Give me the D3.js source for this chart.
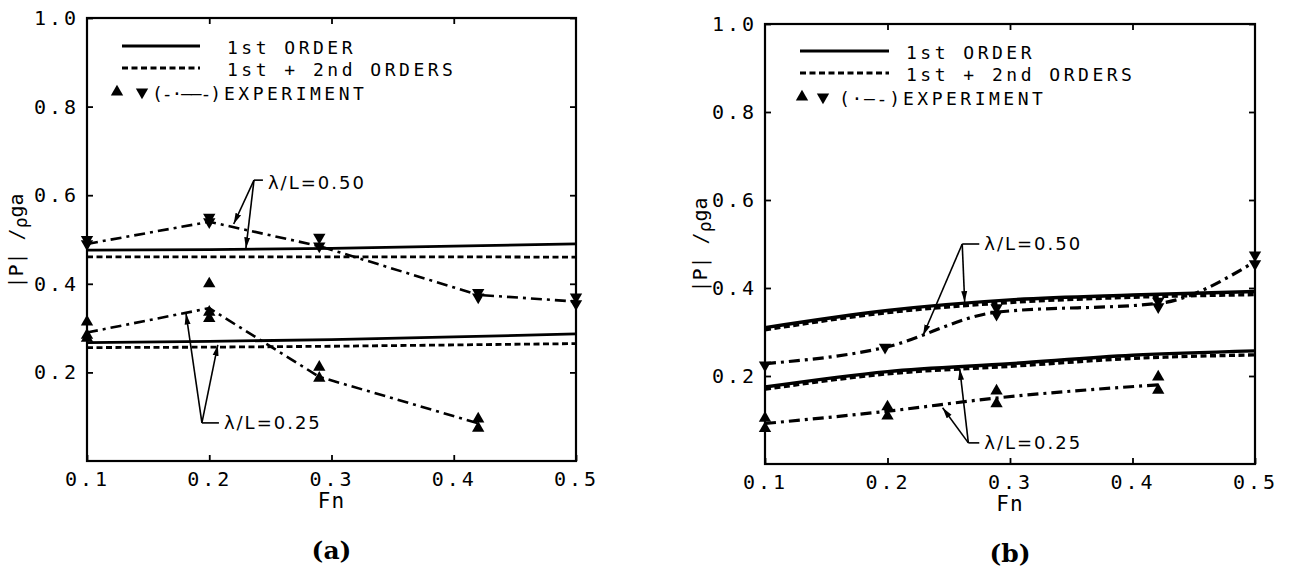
<!DOCTYPE html>
<html>
<head>
<meta charset="utf-8">
<script src="https://cdn.jsdelivr.net/npm/d3@7"></script>
<style>
  body { margin: 0; background: #fff; }
  svg { display: block; }
  .mono { font-family: 'DejaVu Sans Mono', monospace; fill: #000; }
</style>
</head>
<body>
<svg id="chart" width="1289" height="573"></svg>
<script>
// ── DATA ────────────────────────────────────────────────────────────────
const fnTicks    = [0.1, 0.2, 0.3, 0.4, 0.5];
const fnInner    = [0.2, 0.3, 0.4];
const yTicks     = [0.2, 0.4, 0.6, 0.8, 1.0];
const theoryFn   = [0.1, 0.2, 0.3, 0.4, 0.5];

// panel (a)
const a1st050    = [0.476, 0.477, 0.480, 0.485, 0.490];
const a2nd050    = [0.461, 0.461, 0.461, 0.461, 0.460];
const a1st025    = [0.267, 0.270, 0.274, 0.280, 0.287];
const a2nd025    = [0.256, 0.257, 0.259, 0.262, 0.265];
const aExpFn050  = [0.1, 0.2, 0.29, 0.42, 0.5];
const aExpLn050  = [0.49, 0.54, 0.485, 0.375, 0.36];
const aExpPt050  = [[0.50, 0.49], [0.55, 0.54], [0.505, 0.485], [0.38, 0.37], [0.37, 0.355]];
const aExpFn025  = [0.1, 0.2, 0.29, 0.42];
const aExpLn025  = [0.29, 0.345, 0.19, 0.085];
const aExpPt025  = [[0.314, 0.284, 0.277], [0.40, 0.336, 0.322], [0.212, 0.187], [0.095, 0.074]];

// panel (b)
const b1st050    = [0.310, 0.349, 0.373, 0.384, 0.392];
const b2nd050    = [0.305, 0.344, 0.367, 0.379, 0.385];
const b1st025    = [0.175, 0.210, 0.228, 0.247, 0.257];
const b2nd025    = [0.170, 0.205, 0.222, 0.240, 0.248];
const bExpFn050  = [0.1, 0.198, 0.289, 0.421, 0.5];
const bExpLn050  = [0.228, 0.265, 0.345, 0.365, 0.46];
const bExpPt050  = [[0.225], [0.265], [0.355, 0.34], [0.37, 0.357], [0.475, 0.455]];
const bExpFn025  = [0.1, 0.2, 0.289, 0.421];
const bExpLn025  = [0.092, 0.12, 0.15, 0.18];
const bExpPt025  = [[0.104, 0.081], [0.13, 0.109], [0.166, 0.137], [0.198, 0.168]];

// annotations: corner, text start, arrow tips (Fn, value)
const aNote050 = { label: 'λ/L=0.50', corner: [0.2366, 0.634], text: [0.248, 0.628], tips: [[0.220, 0.535], [0.230, 0.480]] };
const aNote025 = { label: 'λ/L=0.25', corner: [0.194, 0.086],  text: [0.212, 0.086], tips: [[0.181, 0.333], [0.207, 0.262]] };
const bNote050 = { label: 'λ/L=0.50', corner: [0.261, 0.50],   text: [0.279, 0.50],  tips: [[0.263, 0.368], [0.229, 0.292]] };
const bNote025 = { label: 'λ/L=0.25', corner: [0.266, 0.048],  text: [0.279, 0.048], tips: [[0.259, 0.216], [0.245, 0.128]] };

const legendRows = ['1st ORDER', '1st + 2nd ORDERS', 'EXPERIMENT'];

// ── DRAW ────────────────────────────────────────────────────────────────
const svg = d3.select('#chart');
svg.append('rect').attr('width', 1289).attr('height', 573).attr('fill', '#fff');

const defs = svg.append('defs');
defs.append('marker').attr('id', 'arr')
  .attr('markerUnits', 'userSpaceOnUse')
  .attr('markerWidth', 12).attr('markerHeight', 8)
  .attr('refX', 11).attr('refY', 4).attr('orient', 'auto')
  .append('path').attr('d', 'M0,1 L11,4 L0,7 Z').attr('fill', '#000');

const panels = [
  { tag: '(a)', left: 87, right: 576, top: 18, bottom: 461, lw: 2.8, yLabX: 17, yLabY: 241,
    th: [a1st050, a2nd050, a1st025, a2nd025],
    exp: [{ fn: aExpFn050, ln: aExpLn050, pts: aExpPt050, down: true },
          { fn: aExpFn025, ln: aExpLn025, pts: aExpPt025, down: false }],
    notes: [aNote050, aNote025], curve: d3.curveLinear,
    leg: { x0: 35, x1: 113, rows: [28, 50, 74], tx: 140, tri: [30, 55], par: 65, parTxt: '(-·——-)' } },
  { tag: '(b)', left: 765, right: 1255, top: 24, bottom: 464, lw: 3.4, yLabX: 701, yLabY: 245,
    th: [b1st050, b2nd050, b1st025, b2nd025],
    exp: [{ fn: bExpFn050, ln: bExpLn050, pts: bExpPt050, down: true },
          { fn: bExpFn025, ln: bExpLn025, pts: bExpPt025, down: false }],
    notes: [bNote050, bNote025], curve: d3.curveMonotoneX,
    leg: { x0: 35, x1: 124, rows: [27, 49, 73], tx: 141, tri: [37, 58], par: 74, parTxt: '(·—-)' } }
];

const dashes = ['none', '6,3.5'];
const dashDot = '11,5,3,5';
const triUp = d3.symbol().type(d3.symbolTriangle).size(66);

panels.forEach(p => {
  const x = d3.scaleLinear().domain([0.1, 0.5]).range([p.left, p.right]);
  const y = d3.scaleLinear().domain([0, 1]).range([p.bottom, p.top]);
  const g = svg.append('g');

  // frame
  g.append('rect').attr('x', p.left).attr('y', p.top)
    .attr('width', p.right - p.left).attr('height', p.bottom - p.top)
    .attr('fill', 'none').attr('stroke', '#000').attr('stroke-width', 2.2);

  // axes (inward ticks)
  const styleAxis = sel => {
    sel.select('.domain').remove();
    sel.selectAll('line').attr('stroke', '#000').attr('stroke-width', 1.8);
    sel.selectAll('text').attr('class', 'mono').attr('font-size', 20)
      .style('letter-spacing', '3px').attr('fill', '#000');
  };
  g.append('g').attr('transform', `translate(${p.left},0)`)
    .call(d3.axisLeft(y).tickValues(yTicks).tickSizeInner(-6).tickSizeOuter(0).tickPadding(8)
      .tickFormat(d3.format('.1f'))).call(styleAxis);
  g.append('g').attr('transform', `translate(${p.right},0)`)
    .call(d3.axisRight(y).tickValues(yTicks).tickSizeInner(-6).tickSizeOuter(0).tickFormat('')).call(styleAxis);
  g.append('g').attr('transform', `translate(0,${p.bottom})`)
    .call(d3.axisBottom(x).tickValues(fnTicks).tickSizeInner(-6).tickSizeOuter(0).tickPadding(11)
      .tickFormat(d3.format('.1f'))).call(styleAxis);
  g.append('g').attr('transform', `translate(0,${p.top})`)
    .call(d3.axisTop(x).tickValues(fnInner).tickSizeInner(-6).tickSizeOuter(0).tickFormat('')).call(styleAxis);

  // axis titles
  g.append('text').attr('class', 'mono').attr('font-size', 21).style('letter-spacing', '1px')
    .attr('x', (p.left + p.right) / 2).attr('y', p.bottom + 47).attr('text-anchor', 'middle').text('Fn');
  const yl = g.append('text').attr('class', 'mono').attr('font-size', 20)
    .attr('text-anchor', 'middle')
    .attr('transform', `translate(${p.yLabX + 6},${p.yLabY}) rotate(-90)`);
  yl.append('tspan').text('|P| /');
  yl.append('tspan').attr('font-size', 18).attr('dy', 4).text('ρ');
  yl.append('tspan').attr('dy', -4).text('ga');
  g.append('text').attr('font-family', "'DejaVu Serif', serif").attr('font-weight', 'bold')
    .attr('font-size', 25).attr('fill', '#000')
    .attr('x', (p.left + p.right) / 2).attr('y', p.bottom + 98).attr('text-anchor', 'middle').text(p.tag);

  // theory lines
  const line = d3.line().x((d, i) => x(theoryFn[i])).y(d => y(d)).curve(p.curve);
  p.th.forEach((arr, i) => {
    g.append('path').datum(arr).attr('d', line).attr('fill', 'none')
      .attr('stroke', '#000').attr('stroke-width', p.lw)
      .attr('stroke-dasharray', dashes[i % 2]);
  });

  // experiment
  p.exp.forEach(e => {
    const el = d3.line().x((d, i) => x(e.fn[i])).y(d => y(d)).curve(p.curve);
    g.append('path').datum(e.ln).attr('d', el).attr('fill', 'none')
      .attr('stroke', '#000').attr('stroke-width', p.lw - 0.2).attr('stroke-dasharray', dashDot);
    e.pts.forEach((vals, i) => {
      vals.forEach(v => {
        g.append('path').attr('d', triUp).attr('fill', '#000')
          .attr('transform', `translate(${x(e.fn[i])},${y(v)}) rotate(${e.down ? 180 : 0})`);
      });
    });
  });

  // annotations
  p.notes.forEach(n => {
    const cx = x(n.corner[0]), cy = y(n.corner[1]);
    g.append('line').attr('x1', cx).attr('y1', cy).attr('x2', x(n.text[0]) - 5).attr('y2', cy)
      .attr('stroke', '#000').attr('stroke-width', 1.6);
    n.tips.forEach(t => {
      g.append('line').attr('x1', cx).attr('y1', cy).attr('x2', x(t[0])).attr('y2', y(t[1]))
        .attr('stroke', '#000').attr('stroke-width', 1.6).attr('marker-end', 'url(#arr)');
    });
    g.append('text').attr('font-family', "'DejaVu Sans', sans-serif").attr('font-size', 18)
      .style('letter-spacing', '2px').attr('fill', '#000')
      .attr('x', x(n.text[0])).attr('y', y(n.text[1])).attr('dy', '0.36em').text(n.label);
  });

  // legend
  const L = p.leg;
  [0, 1].forEach(i => {
    g.append('line').attr('x1', p.left + L.x0).attr('x2', p.left + L.x1)
      .attr('y1', p.top + L.rows[i]).attr('y2', p.top + L.rows[i])
      .attr('stroke', '#000').attr('stroke-width', 3).attr('stroke-dasharray', dashes[i]);
  });
  legendRows.forEach((t, i) => {
    g.append('text').attr('class', 'mono').attr('font-size', 18).style('letter-spacing', '3.5px')
      .attr('x', p.left + L.tx - (i === 2 ? 3 : 0)).attr('y', p.top + L.rows[i] + 8).text(t);
  });
  L.tri.forEach((dx, i) => {
    g.append('path').attr('d', triUp).attr('fill', '#000')
      .attr('transform', `translate(${p.left + dx},${p.top + L.rows[2]}) rotate(${i ? 180 : 0})`);
  });
  g.append('text').attr('class', 'mono').attr('font-size', 18)
    .attr('x', p.left + L.par).attr('y', p.top + L.rows[2] + 8)
    .attr('textLength', L.tx - L.par - 6).text(L.parTxt);
});
</script>
</body>
</html>
